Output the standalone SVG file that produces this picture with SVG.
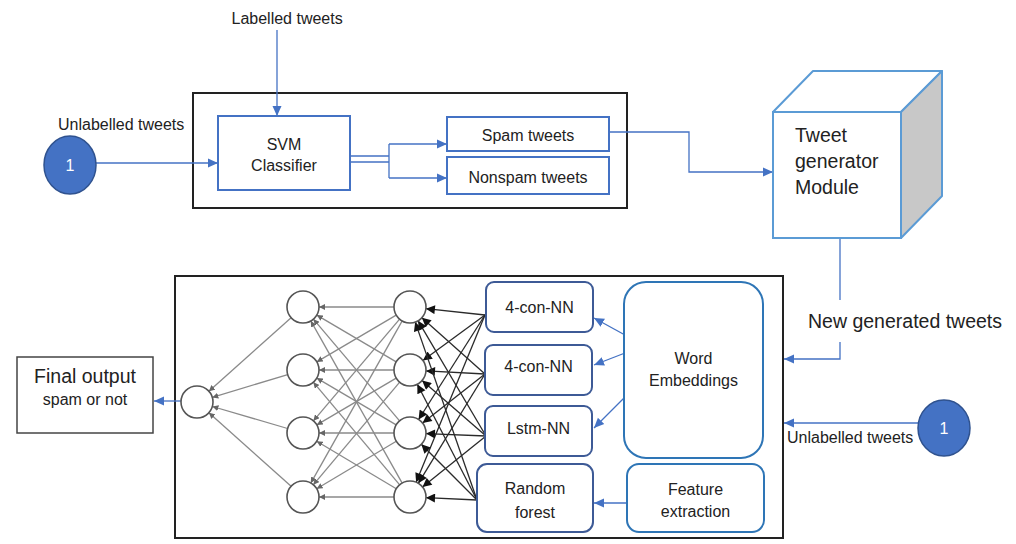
<svg xmlns="http://www.w3.org/2000/svg" width="1016" height="544" viewBox="0 0 1016 544">
<defs>
<style>
text{font-family:"Liberation Sans",Arial,sans-serif;fill:#222;}
.t16{font-size:16px;}
.t19{font-size:19.5px;}
.c{text-anchor:middle;}
.frame{fill:none;stroke:#222;stroke-width:2;}
.bbox{fill:#fff;stroke:#4472c4;stroke-width:2;}
.mbox{fill:#fff;stroke:#3d5a96;stroke-width:2;}
.lbox{fill:#fff;stroke:#2e75b6;stroke-width:2;}
.blue{fill:none;stroke:#4472c4;stroke-width:1.3;}
.bluea{fill:none;stroke:#4472c4;stroke-width:1.3;marker-end:url(#ab);}
.gray{stroke:#8a8a8a;stroke-width:1.3;marker-end:url(#ag);}
.blk{stroke:#2a2a2a;stroke-width:1.3;marker-end:url(#ak);}
.node{fill:#fff;stroke:#555;stroke-width:1.6;}
.num{fill:#4472c4;stroke:#2f528f;stroke-width:1.5;}
</style>
<marker id="ab" viewBox="0 0 10 10" refX="10" refY="5" markerWidth="10" markerHeight="10" markerUnits="userSpaceOnUse" orient="auto"><path d="M0,0.5 L10,5 L0,9.5 Z" fill="#4472c4"/></marker>
<marker id="ag" viewBox="0 0 10 10" refX="10" refY="5" markerWidth="6" markerHeight="6" markerUnits="userSpaceOnUse" orient="auto"><path d="M0,0 L10,5 L0,10 Z" fill="#666"/></marker>
<marker id="ak" viewBox="0 0 10 10" refX="10" refY="5" markerWidth="10" markerHeight="9" markerUnits="userSpaceOnUse" orient="auto"><path d="M0,0 L10,5 L0,10 Z" fill="#111"/></marker>
</defs>

<g id="frames">
<rect class="frame" x="193" y="93" width="434" height="115"/>
<rect class="frame" x="175" y="276" width="608" height="262"/>
</g>

<g id="connectors">
<path class="bluea" d="M277,30 V116"/>
<path class="bluea" d="M96,163 H218"/>
<path class="blue" d="M350,156 H389 M350,162 H389 M389,144 V178"/>
<path class="bluea" d="M389,144 H447"/>
<path class="bluea" d="M389,178 H447"/>
<path class="bluea" d="M609,132 H689 V172 H773"/>
<path class="blue" d="M840,238 V300"/>
<path class="bluea" d="M840,342 V359 H784"/>
<path class="bluea" d="M918,423 H784"/>
<path class="bluea" d="M181,401 H154"/>
<path class="bluea" d="M625,335 L594,318"/>
<path class="bluea" d="M625,353 L594,365"/>
<path class="bluea" d="M625,397 L594,428"/>
<path class="bluea" d="M627,503 H594"/>
<g id="nn-l2-l1">
<line class="gray" x1="394" y1="307" x2="319" y2="307"/>
<line class="gray" x1="396.2" y1="315.1" x2="316.8" y2="361.9"/>
<line class="gray" x1="399.6" y1="319.2" x2="313.4" y2="420.8"/>
<line class="gray" x1="402.2" y1="320.9" x2="310.8" y2="483.1"/>
<line class="gray" x1="396.2" y1="361.9" x2="316.8" y2="315.1"/>
<line class="gray" x1="394" y1="370" x2="319" y2="370"/>
<line class="gray" x1="396.2" y1="378.1" x2="316.8" y2="424.9"/>
<line class="gray" x1="399.7" y1="382.2" x2="313.3" y2="484.8"/>
<line class="gray" x1="399.6" y1="420.8" x2="313.4" y2="319.2"/>
<line class="gray" x1="396.2" y1="424.9" x2="316.8" y2="378.1"/>
<line class="gray" x1="394" y1="433" x2="319" y2="433"/>
<line class="gray" x1="396.3" y1="441.2" x2="316.7" y2="488.8"/>
<line class="gray" x1="402.2" y1="483.1" x2="310.8" y2="320.9"/>
<line class="gray" x1="399.7" y1="484.8" x2="313.3" y2="382.2"/>
<line class="gray" x1="396.3" y1="488.8" x2="316.7" y2="441.2"/>
<line class="gray" x1="394" y1="497" x2="319" y2="497"/>
</g>
<g id="nn-l1-out">
<line class="gray" x1="291.1" y1="317.7" x2="208.9" y2="391.3"/>
<line class="gray" x1="287.7" y1="374.6" x2="212.3" y2="397.4"/>
<line class="gray" x1="287.6" y1="428.5" x2="212.4" y2="406.5"/>
<line class="gray" x1="291.1" y1="486.3" x2="208.9" y2="412.7"/>
</g>
<g id="nn-models-l2">
<line class="blk" x1="485" y1="315" x2="425.9" y2="308.7"/>
<line class="blk" x1="485" y1="315" x2="422.9" y2="360.5"/>
<line class="blk" x1="485" y1="315" x2="418.6" y2="419.5"/>
<line class="blk" x1="485" y1="315" x2="416.1" y2="482.2"/>
<line class="blk" x1="485" y1="374" x2="421.9" y2="317.7"/>
<line class="blk" x1="485" y1="374" x2="426" y2="370.9"/>
<line class="blk" x1="485" y1="374" x2="422.6" y2="423.1"/>
<line class="blk" x1="485" y1="374" x2="418.3" y2="483.3"/>
<line class="blk" x1="486" y1="436" x2="418.1" y2="320.8"/>
<line class="blk" x1="486" y1="436" x2="422.1" y2="380.5"/>
<line class="blk" x1="486" y1="436" x2="426" y2="433.6"/>
<line class="blk" x1="486" y1="436" x2="422.5" y2="487"/>
<line class="blk" x1="477" y1="500" x2="415.2" y2="322.1"/>
<line class="blk" x1="477" y1="500" x2="417.3" y2="384.2"/>
<line class="blk" x1="477" y1="500" x2="421.3" y2="444.3"/>
<line class="blk" x1="477" y1="500" x2="426" y2="497.7"/>
</g>
</g>

<g id="labelled-tweets"><text class="t16" x="231.5" y="24">Labelled tweets</text></g>
<g id="unlabelled-top"><text class="t16" x="58" y="130">Unlabelled tweets</text></g>
<g id="circle-1-top"><ellipse class="num" cx="70" cy="165" rx="26" ry="29"/><text class="t16 c" x="70" y="171" style="fill:#fff">1</text></g>
<g id="svm"><rect class="bbox" x="218" y="116" width="132" height="74"/><text class="t16 c" x="284" y="150">SVM</text><text class="t16 c" x="284" y="171">Classifier</text></g>
<g id="spam"><rect class="bbox" x="447" y="117" width="162" height="34"/><text class="t16 c" x="528" y="141">Spam tweets</text></g>
<g id="nonspam"><rect class="bbox" x="447" y="157" width="162" height="37"/><text class="t16 c" x="528" y="183">Nonspam tweets</text></g>

<g id="tweet-generator">
<polygon points="773,112 813,71 942,71 901,112" fill="#fff" stroke="#5b9bd5" stroke-width="2" stroke-linejoin="round"/>
<polygon points="901,112 942,71 942,196 901,238" fill="#c8c8c8" stroke="#5b9bd5" stroke-width="2" stroke-linejoin="round"/>
<rect x="773" y="112" width="128" height="126" fill="#fff" stroke="#5b9bd5" stroke-width="2"/>
<text class="t19" x="795" y="142">Tweet</text>
<text class="t19" x="795" y="168">generator</text>
<text class="t19" x="795" y="194">Module</text>
</g>
<g id="new-generated"><text class="t19" x="808" y="328">New generated tweets</text></g>
<g id="circle-1-bottom"><ellipse class="num" cx="944" cy="428" rx="26" ry="28"/><text class="t16 c" x="944" y="434" style="fill:#fff">1</text></g>
<g id="unlabelled-bottom"><text class="t16" x="787" y="443">Unlabelled tweets</text></g>

<g id="final-output"><rect x="17" y="357" width="136" height="76" fill="#fff" stroke="#444" stroke-width="1.5"/><text class="t19 c" x="85" y="383">Final output</text><text class="t16 c" x="85" y="405">spam or not</text></g>

<g id="nn-nodes">
<circle class="node" cx="197" cy="402" r="16"/>
<circle class="node" cx="303" cy="307" r="16"/>
<circle class="node" cx="303" cy="370" r="16"/>
<circle class="node" cx="303" cy="433" r="16"/>
<circle class="node" cx="303" cy="497" r="16"/>
<circle class="node" cx="410" cy="307" r="16"/>
<circle class="node" cx="410" cy="370" r="16"/>
<circle class="node" cx="410" cy="433" r="16"/>
<circle class="node" cx="410" cy="497" r="16"/>
</g>

<g id="cnn-1"><rect class="mbox" x="486" y="282" width="107" height="50" rx="8"/><text class="t16 c" x="539.5" y="313">4-con-NN</text></g>
<g id="cnn-2"><rect class="mbox" x="485" y="345" width="107" height="50" rx="8"/><text class="t16 c" x="538.5" y="372">4-con-NN</text></g>
<g id="lstm"><rect class="mbox" x="485" y="406" width="107" height="50" rx="8"/><text class="t16 c" x="538.5" y="434">Lstm-NN</text></g>
<g id="random-forest"><rect class="mbox" x="477" y="464" width="116" height="68" rx="10"/><text class="t16 c" x="535" y="494">Random</text><text class="t16 c" x="535" y="518">forest</text></g>
<g id="word-embeddings"><rect class="lbox" x="624" y="282" width="139" height="176" rx="22"/><text class="t16 c" x="693.5" y="364">Word</text><text class="t16 c" x="693.5" y="386">Embeddings</text></g>
<g id="feature-extraction"><rect class="lbox" x="627" y="464" width="137" height="68" rx="12"/><text class="t16 c" x="695.5" y="495">Feature</text><text class="t16 c" x="695.5" y="517">extraction</text></g>
</svg>
